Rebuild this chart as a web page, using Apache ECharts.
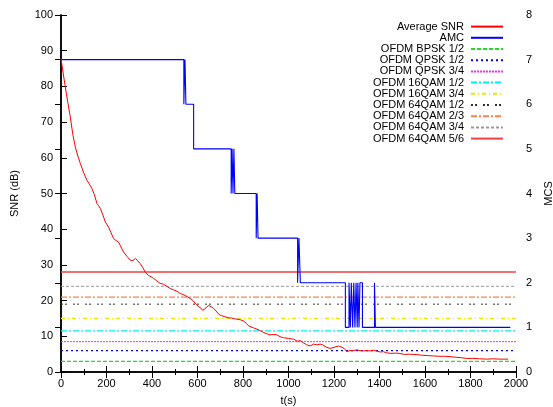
<!DOCTYPE html>
<html>
<head>
<meta charset="utf-8">
<script src="https://cdn.jsdelivr.net/npm/echarts@6/dist/echarts.min.js"></script>
<style>html,body{margin:0;padding:0;background:#fff;}#c{width:553px;height:407px;}</style>
</head>
<body>
<div id="c"></div>
<script>
// ---- Data ----
const snrTime = [0,10,19,30,41,52,63,74,85,100,114,125,136,147,158,165,173,184,195,209,220,231,242,253,264,275,290,305,316,327,338,348,360,370,385,398,407,420,436,450,465,480,495,510,524,540,555,568,580,593,605,615,622,627,632,640,649,660,671,682,693,705,720,736,750,762,773,790,802,815,825,832,845,861,875,890,905,919,935,949,963,978,1000,1022,1040,1051,1065,1080,1095,1110,1125,1139,1150,1165,1183,1200,1220,1235,1245,1256,1270,1285,1300,1315,1330,1345,1359,1375,1390,1405,1417,1430,1450,1470,1490,1510,1530,1550,1564,1585,1610,1637,1660,1685,1710,1740,1760,1783,1810,1840,1871,1900,1930,1966];
const snrValue = [87.8,83.5,79.8,75.5,71.4,66.5,63,60.5,58.4,55.8,53.7,52.6,51.4,49.6,47.2,46.6,45.8,44,42,40.6,39,37.4,36.8,36.4,35,33.6,32.4,31.3,31.2,31.8,31.1,30.4,29.2,28,27,26.6,26.2,25.6,24.8,24.6,24,23.4,23,22.6,22.0,21.6,21.1,20.6,20,19,18.3,17.9,17.3,16.9,17.6,18.2,18.6,18.3,17.8,17.1,16.2,15.8,15.5,15.2,15.1,14.9,14.8,14.6,14.3,13.6,12.9,12.7,12.4,12.0,11.6,11.1,10.7,10.4,10.5,10.4,9.9,9.6,9.4,9.2,8.6,8.8,8.2,7.6,7.3,7.8,7.6,7.8,7.6,7.0,6.6,6.9,7.3,6.9,6.6,5.7,6.0,6.0,6.2,6.0,5.9,6.0,5.9,6.1,5.8,5.6,5.7,5.4,5.2,5.3,5.2,4.9,5.0,4.9,4.9,4.7,4.6,4.5,4.4,4.4,4.3,4.1,4.0,3.8,3.8,3.7,3.6,3.7,3.6,3.6];

// AMC: MCS index that starts at each time (step)
const amcTime = [0,540,545,549,583,748,752,756,760,764,858,862,866,1040,1046,1052,1250,1266,1272,1276,1282,1287,1292,1297,1302,1305,1310,1314,1325,1378,1382,1975];
const amcMcs  = [7,6,7,6,5,4,5,4,5,4,3,4,3,2,3,2,1,2,1,2,1,2,1,2,1,2,1,2,1,2,1,1];

const thresholdNames = ['OFDM BPSK 1/2','OFDM QPSK 1/2','OFDM QPSK 3/4','OFDM 16QAM 1/2','OFDM 16QAM 3/4','OFDM 64QAM 1/2','OFDM 64QAM 2/3','OFDM 64QAM 3/4','OFDM 64QAM 5/6'];
const thresholdValues = [3,6,8.5,11.5,15,19,21,24,28];

const xTicks = {min:0, max:2000, interval:200};
const snrTicks = {min:0, max:100, interval:10};
const mcsTicks = {min:0, max:8, interval:1};

// ---- Styles ----
const thrStyles = [
  {color:'#22dd22', type:[4,2], width:1.3},
  {color:'#0000ee', type:[2,3], width:1.2},
  {color:'#ee33ee', type:[2,1], width:1},
  {color:'#00eeee', type:[6,2,2,2], width:1.3},
  {color:'#e8e800', type:[4,3,1,3], width:1.2},
  {color:'#333333', type:[2,2,2,6], width:1},
  {color:'#f5844f', type:[6,2,2,2], width:1.3},
  {color:'#999999', type:[3,2], width:1},
  {color:'#f04040', type:'solid', width:1.6}
];

const font = 'Liberation Sans, Arial, sans-serif';
const chart = echarts.init(document.getElementById('c'), null, {renderer:'canvas'});

const series = [
  {
    name:'Average SNR', type:'line', xAxisIndex:0, yAxisIndex:0,
    data: snrTime.map((t,i)=>[t, snrValue[i]]),
    symbol:'none', lineStyle:{color:'#ff0000', width:1}, itemStyle:{color:'#ff0000'},
    z:5, animation:false
  },
  {
    name:'AMC', type:'line', xAxisIndex:0, yAxisIndex:1, step:'end',
    data: amcTime.map((t,i)=>[t, amcMcs[i]]),
    symbol:'none', lineStyle:{color:'#0000ff', width:1.1}, itemStyle:{color:'#0000ff'},
    z:4, animation:false
  }
];
thresholdNames.forEach((n,i)=>{
  series.push({
    name:n, type:'line', xAxisIndex:0, yAxisIndex:0,
    data:[[xTicks.min, thresholdValues[i]],[xTicks.max, thresholdValues[i]]],
    symbol:'none', lineStyle:thrStyles[i], itemStyle:{color:thrStyles[i].color},
    z:2, animation:false
  });
});

const axisLine = {show:true, lineStyle:{color:'#000', width:1.5}};
const tickLbl = {color:'#000', fontSize:11, fontFamily:font, formatter:(v)=>String(v)};

chart.setOption({
  animation:false,
  backgroundColor:'#fff',
  textStyle:{fontFamily:font},
  grid:{left:61, right:37, top:15, bottom:35, containLabel:false, outerBoundsMode:'none'},
  legend:{
    orient:'vertical', right:44, top:16, align:'right',
    itemWidth:32, itemHeight:8, itemGap:0,
    itemStyle:{opacity:0},
    textStyle:{fontSize:11, color:'#000', fontFamily:font, lineHeight:11.2, padding:[0,2,0,0]},
    data: ['Average SNR','AMC'].concat(thresholdNames)
  },
  xAxis:[
    {type:'value', position:'bottom', min:xTicks.min, max:xTicks.max, interval:xTicks.interval,
     name:'t(s)', nameLocation:'middle', nameGap:23, nameTextStyle:{color:'#000', fontSize:11, fontFamily:font},
     axisLine:axisLine, axisTick:{inside:true, length:6, lineStyle:{color:'#000'}},
     minorTick:{show:true, splitNumber:2, length:3, lineStyle:{color:'#000'}},
     axisLabel:Object.assign({margin:6}, tickLbl), splitLine:{show:false}},
    {type:'value', position:'top', min:xTicks.min, max:xTicks.max, interval:xTicks.interval,
     axisLine:axisLine, axisTick:{inside:true, length:6, lineStyle:{color:'#000'}},
     minorTick:{show:true, splitNumber:2, length:3, lineStyle:{color:'#000'}},
     axisLabel:{show:false}, splitLine:{show:false}}
  ],
  yAxis:[
    {type:'value', position:'left', min:snrTicks.min, max:snrTicks.max, interval:snrTicks.interval,
     name:'SNR (dB)', nameLocation:'middle', nameGap:41, nameRotate:90,
     nameTextStyle:{color:'#000', fontSize:11, fontFamily:font},
     axisLine:axisLine, axisTick:{inside:true, length:6, lineStyle:{color:'#000'}},
     axisLabel:Object.assign({margin:8}, tickLbl), splitLine:{show:false}},
    {type:'value', position:'right', min:mcsTicks.min, max:mcsTicks.max, interval:mcsTicks.interval,
     name:'MCS', nameLocation:'middle', nameGap:27, nameRotate:90,
     nameTextStyle:{color:'#000', fontSize:11, fontFamily:font},
     axisLine:axisLine, axisTick:{inside:true, length:6, lineStyle:{color:'#000'}},
     axisLabel:Object.assign({margin:10}, tickLbl), splitLine:{show:false}}
  ],
  series: series
});
</script>
</body>
</html>
